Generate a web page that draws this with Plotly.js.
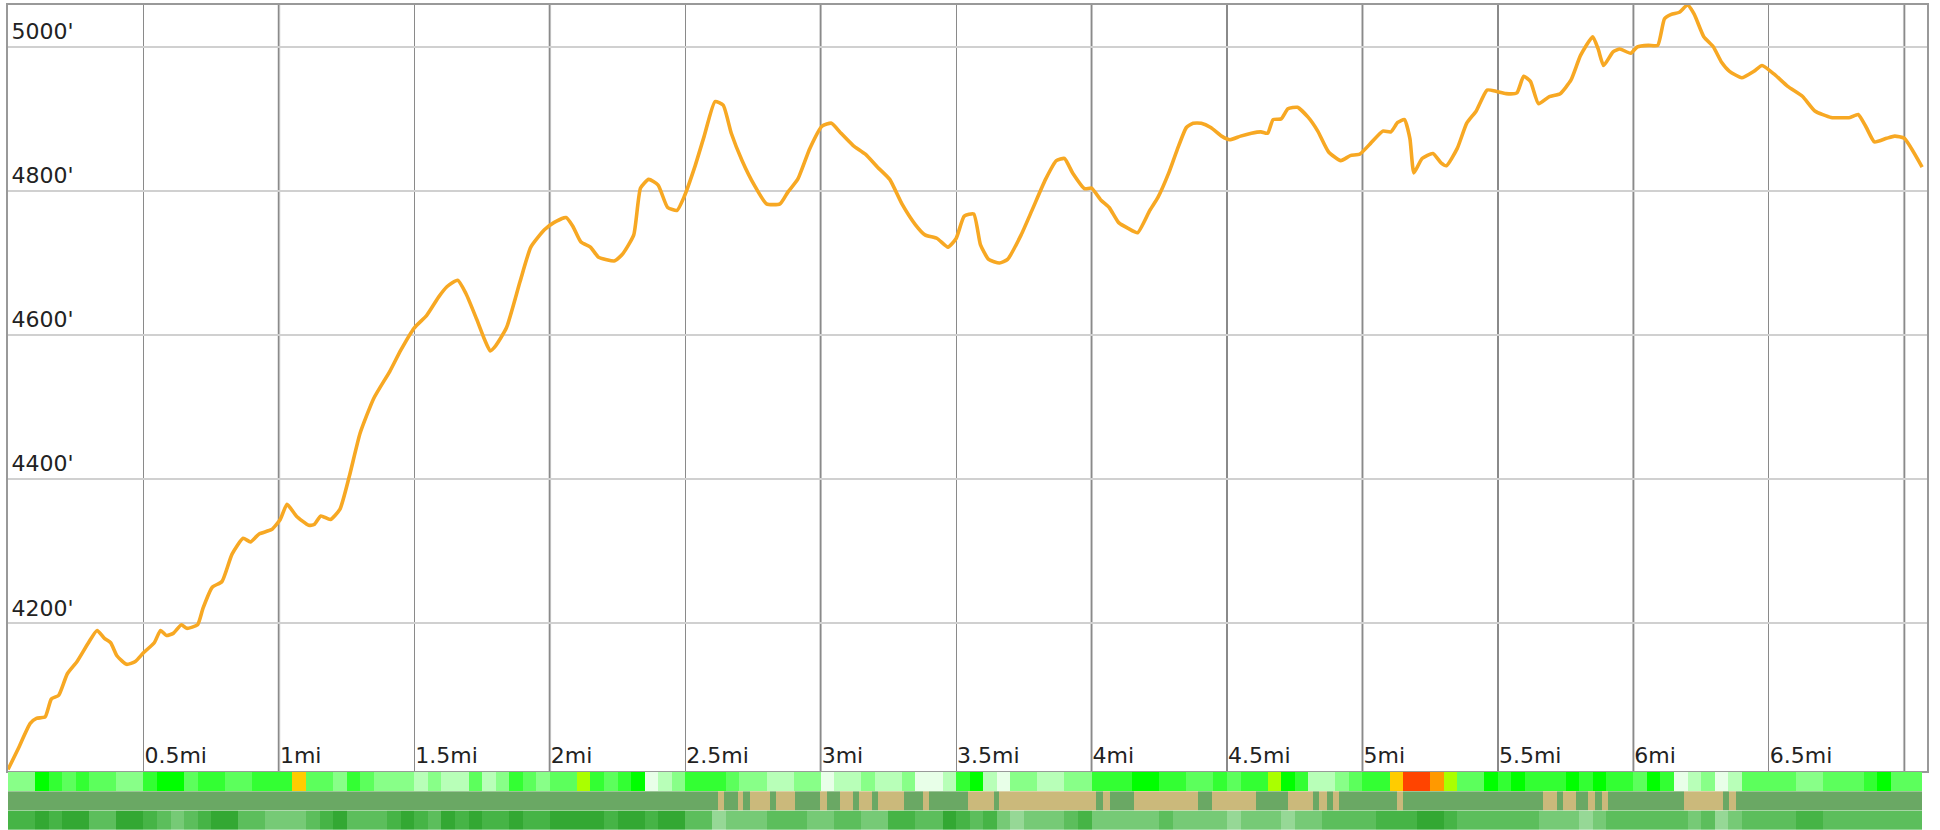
<!DOCTYPE html>
<html>
<head>
<meta charset="utf-8">
<script src="https://cdn.plot.ly/plotly-3.0.1.min.js"></script>
<style>html,body{margin:0;padding:0;background:#fff;}#chart{width:1940px;height:830px;}</style>
</head>
<body>
<div id="chart"></div>
<script>
// Elevation profile (distance in miles, elevation in feet)
const distanceMi = [0,0.039,0.082,0.105,0.137,0.16,0.187,0.219,0.255,0.297,
0.329,0.356,0.379,0.402,0.438,0.47,0.5,0.54,0.563,0.585,
0.61,0.64,0.66,0.70,0.72,0.754,0.79,0.827,0.868,0.895,
0.927,0.973,1.005,1.03,1.064,1.11,1.13,1.155,1.19,1.225,
1.26,1.30,1.35,1.41,1.45,1.50,1.545,1.59,1.62,1.66,
1.69,1.73,1.76,1.78,1.80,1.84,1.89,1.93,1.98,2.015,
2.06,2.085,2.115,2.15,2.18,2.24,2.27,2.31,2.335,2.365,
2.40,2.435,2.47,2.495,2.535,2.57,2.61,2.64,2.67,2.71,
2.755,2.80,2.85,2.88,2.915,2.96,3.005,3.04,3.075,3.12,
3.165,3.21,3.255,3.30,3.35,3.385,3.43,3.47,3.50,3.53,
3.565,3.59,3.62,3.66,3.69,3.74,3.78,3.83,3.87,3.90,
3.93,3.975,4.00,4.035,4.065,4.10,4.135,4.17,4.215,4.245,
4.285,4.315,4.35,4.375,4.405,4.44,4.48,4.51,4.55,4.59,
4.625,4.65,4.67,4.70,4.725,4.76,4.80,4.835,4.875,4.92,
4.955,4.99,5.03,5.075,5.105,5.13,5.155,5.175,5.19,5.22,
5.26,5.29,5.31,5.35,5.385,5.42,5.46,5.495,5.53,5.57,
5.595,5.62,5.65,5.69,5.73,5.77,5.805,5.85,5.87,5.89,
5.925,5.95,5.99,6.015,6.056,6.09,6.115,6.14,6.17,6.20,
6.225,6.26,6.295,6.325,6.355,6.40,6.445,6.475,6.52,6.57,
6.625,6.67,6.73,6.80,6.83,6.86,6.89,6.935,6.965,7.0,
7.066];
const elevationFt = [3997,4027,4061,4068,4070,4095,4100,4130,4147,4173,
4190,4179,4173,4155,4143,4147,4159,4173,4190,4183,
4186,4198,4193,4198,4221,4250,4258,4296,4318,4313,
4324,4330,4344,4365,4349,4336,4337,4349,4344,4358,
4404,4464,4512,4550,4579,4610,4627,4653,4667,4676,
4658,4622,4593,4578,4585,4610,4674,4722,4746,4756,
4763,4751,4729,4722,4708,4703,4713,4739,4804,4816,
4808,4777,4773,4791,4833,4876,4924,4919,4880,4842,
4808,4782,4782,4799,4816,4859,4890,4894,4880,4863,
4851,4833,4816,4782,4753,4739,4734,4722,4734,4765,
4768,4725,4705,4700,4705,4739,4773,4816,4842,4845,
4825,4803,4804,4787,4777,4756,4748,4742,4773,4791,
4825,4856,4888,4894,4894,4888,4876,4871,4876,4880,
4882,4880,4899,4900,4914,4916,4902,4883,4854,4842,
4849,4851,4866,4883,4882,4895,4899,4873,4825,4845,
4852,4839,4835,4859,4894,4911,4940,4938,4935,4936,
4959,4952,4921,4931,4935,4954,4988,5014,4997,4974,
4993,4997,4991,5000,5002,5002,5039,5045,5048,5058,
5045,5014,5000,4979,4966,4957,4966,4974,4962,4945,
4931,4911,4902,4902,4906,4888,4868,4873,4876,4873,
4833];

// Tick labels
const elevTicks = [4200, 4400, 4600, 4800, 5000];
const elevLabels = ["4200'", "4400'", "4600'", "4800'", "5000'"];
const distTicks = [0.5, 1, 1.5, 2, 2.5, 3, 3.5, 4, 4.5, 5, 5.5, 6, 6.5, 7];
const distLabels = ["0.5mi","1mi","1.5mi","2mi","2.5mi","3mi","3.5mi","4mi","4.5mi","5mi","5.5mi","6mi","6.5mi","7mi"];

// Strip row 1: grade class per 0.05 mi segment (0 = flat ... 9 = steep)
const gradeClass = [2,2,5,4,3,4,3,3,2,2, 4,5,5,3,4,4,3,3,4,4, 4,7,3,3,2,4,3,2,2,2,
1,2,1,1,3,1,2,4,3,2, 3,3,6,4,3,4,5,0,1,2, 4,4,4,3,2,2,1,1,2,2,
0,1,1,2,1,1,2,0,0,1, 4,5,1,0,2,2,1,1,2,2, 4,4,4,5,5,4,4,3,3,4,
3,4,4,6,5,4,1,1,2,3, 4,4,7,9,9,8,6,3,3,5, 4,5,4,4,4,5,4,5,4,4,
3,5,4,0,1,2,0,1,3,3, 3,3,2,2,3,3,3,4,5,3, 3,3];
// Strip row 3: shade class per 0.05 mi segment
const shadeClass = [1,1,0,1,0,0,2,2,0,0, 1,2,3,2,1,0,0,2,2,3, 3,3,2,1,0,2,2,2,1,0,
1,2,0,1,0,1,1,0,1,1, 0,0,0,0,1,0,0,1,0,0, 2,2,4,3,3,3,2,2,2,3,
3,2,2,3,3,1,1,2,2,0, 1,2,1,3,4,3,3,3,2,1, 3,3,3,3,3,2,3,3,3,3,
4,3,3,3,4,3,3,2,2,2, 2,1,1,1,0,0,1,2,2,2, 2,2,2,3,3,3,4,3,2,2,
2,2,2,2,3,2,4,3,2,2, 2,2,1,1,2,2,2,2,2,2, 2,2];
// Strip row 2: unpaved (tan) stretches, start/end in miles
const unpavedStart = [2.622,2.694,2.739,2.835,2.997,3.071,3.143,3.210,3.379,3.545,3.659,4.041,4.158,4.443,4.724,4.841,4.890,5.126,5.667,5.739,5.833,5.883,6.187,6.353];
const unpavedEnd   = [2.644,2.714,2.813,2.905,3.024,3.118,3.188,3.307,3.401,3.640,4.016,4.068,4.394,4.606,4.818,4.868,4.913,5.151,5.717,5.788,5.858,5.905,6.330,6.379];
const segmentMi = 0.05;

const trackEnd = distanceMi[distanceMi.length - 1];
const xMax = 7.084;

// build edges for the uniform rows
const uniEdges = [];
for (let i = 0; i <= gradeClass.length; i++) uniEdges.push(Math.min(i * segmentMi, trackEnd));
// build edges for the surface row
const surfEdges = [0], surfZ = [];
for (let i = 0; i < unpavedStart.length; i++) {
  surfZ.push(0); surfEdges.push(unpavedStart[i]);
  surfZ.push(1); surfEdges.push(unpavedEnd[i]);
}
surfZ.push(0); surfEdges.push(trackEnd);

function stepScale(colors) {
  const n = colors.length, cs = [];
  colors.forEach((c, k) => { cs.push([k / n, c]); cs.push([(k + 1) / n, c]); });
  return cs;
}
const gradeColors = ['#e8ffe8','#b8ffb8','#88ff88','#5cff5c','#33ff33','#00ff00','#aaff00','#ffcc00','#ff9900','#ff4400'];
const surfColors = ['#6aa864','#cbb97b'];
const shadeColors = ['#33a833','#46b446','#5cbe5c','#76ca76','#96d896'];

const fontFam = 'DejaVu Sans, sans-serif';

// whole-mile grid lines (lighter and wider), derived from the tick list
const wholeMileShapes = distTicks.filter(v => Number.isInteger(v)).map(v => ({
  type: 'line', xref: 'x', yref: 'y domain', x0: v, x1: v, y0: 0, y1: 1,
  line: {color: '#bdbdbd', width: 2.6}, layer: 'below'
}));

const traces = [
  {
    x: distanceMi, y: elevationFt, type: 'scatter', mode: 'lines',
    line: {color: '#f7a823', width: 3.6, shape: 'spline', smoothing: 0.5},
    hoverinfo: 'x+y', xaxis: 'x', yaxis: 'y'
  },
  {
    type: 'heatmap', x: uniEdges, y: [2], z: [gradeClass], xaxis: 'x3', yaxis: 'y2',
    zmin: -0.5, zmax: gradeColors.length - 0.5, colorscale: stepScale(gradeColors),
    showscale: false, hoverinfo: 'skip'
  },
  {
    type: 'heatmap', x: surfEdges, y: [1], z: [surfZ], xaxis: 'x3', yaxis: 'y2',
    zmin: -0.5, zmax: 1.5, colorscale: stepScale(surfColors),
    showscale: false, hoverinfo: 'skip'
  },
  {
    type: 'heatmap', x: uniEdges, y: [0], z: [shadeClass], xaxis: 'x3', yaxis: 'y2',
    zmin: -0.5, zmax: shadeColors.length - 0.5, colorscale: stepScale(shadeColors),
    showscale: false, hoverinfo: 'skip'
  }
];

const layout = {
  width: 1940, height: 830,
  margin: {l: 8, r: 13, t: 5, b: 0, pad: 0},
  paper_bgcolor: '#fff', plot_bgcolor: '#fff',
  showlegend: false,
  font: {family: fontFam, size: 22, color: '#222'},
  shapes: wholeMileShapes,
  xaxis: {
    range: [0, xMax], domain: [0, 1], anchor: 'y',
    tickmode: 'array', tickvals: distTicks, ticktext: distLabels,
    ticklabelposition: 'inside right', ticks: '', ticklabelstandoff: 2,
    showgrid: true, gridcolor: '#8a8a8a', gridwidth: 1.2,
    showline: true, mirror: true, linecolor: '#999', linewidth: 2,
    zeroline: false, tickfont: {family: fontFam, size: 22, color: '#222'}
  },
  yaxis: {
    range: [3995, 5058], domain: [0.0715, 1], anchor: 'x',
    tickmode: 'array', tickvals: elevTicks, ticktext: elevLabels,
    ticklabelposition: 'inside top', ticks: '', ticklabelstandoff: 4,
    showgrid: true, gridcolor: '#d0d0d0', gridwidth: 2,
    showline: true, mirror: true, linecolor: '#999', linewidth: 2,
    zeroline: false, tickfont: {family: fontFam, size: 22, color: '#222'}
  },
  xaxis3: {range: [0, xMax], anchor: 'y2', visible: false, showgrid: false, zeroline: false},
  yaxis2: {range: [-0.5, 2.5], domain: [0, 0.0703], anchor: 'x3', visible: false, showgrid: false, zeroline: false}
};

Plotly.newPlot('chart', traces, layout, {displayModeBar: false, staticPlot: true});
</script>
</body>
</html>
